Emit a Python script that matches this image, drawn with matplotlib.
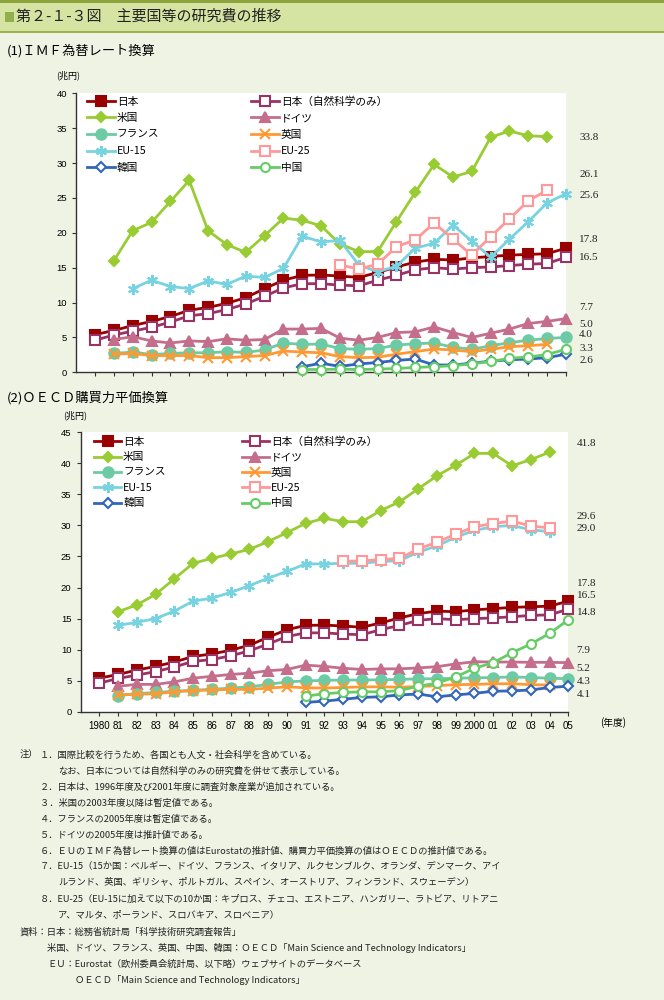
import numpy as np
import matplotlib
matplotlib.use("Agg")
import matplotlib.pyplot as plt
import matplotlib.transforms as mtransforms
from matplotlib.patches import Rectangle

plt.rcParams['font.family'] = ['Noto Sans CJK JP', 'DejaVu Sans']

nan = np.nan
years = list(range(1980, 2006))

# ---- (1) IMF為替レート換算 (兆円) ----
jp = [5.4, 6.0, 6.7, 7.3, 8.0, 8.9, 9.3, 9.9, 10.7, 12.0, 13.2, 13.9, 13.95, 13.8,
      13.6, 14.3, 15.1, 15.8, 16.2, 16.1, 16.4, 16.6, 16.8, 16.9, 17.0, 17.8]
jp_ns = [4.6, 5.35, 5.9, 6.45, 7.2, 8.1, 8.4, 9.0, 9.8, 10.9, 12.1, 12.7, 12.7, 12.5,
         12.4, 13.2, 13.9, 14.7, 15.0, 14.8, 15.0, 15.1, 15.3, 15.5, 15.6, 16.5]
us_imf = [nan, 16.0, 20.3, 21.5, 24.5, 27.5, 20.3, 18.3, 17.2, 19.6, 22.1, 21.8, 21.0,
          18.4, 17.3, 17.3, 21.6, 25.8, 29.8, 28.0, 28.8, 33.7, 34.6, 33.9, 33.8, nan]
de_imf = [nan, 4.7, 5.1, 4.5, 4.2, 4.5, 4.4, 4.8, 4.6, 4.7, 6.2, 6.2, 6.3, 4.9, 4.6,
          5.0, 5.7, 5.8, 6.5, 5.7, 5.0, 5.6, 6.2, 7.0, 7.3, 7.7]
fr_imf = [nan, 2.7, 2.9, 2.55, 2.7, 2.8, 2.8, 2.95, 2.85, 3.2, 4.2, 4.0, 4.05, 3.4,
          3.3, 3.4, 3.9, 4.1, 4.2, 3.6, 3.3, 3.8, 4.25, 4.6, 4.85, 5.0]
uk_imf = [nan, 2.6, 2.7, 2.4, 2.4, 2.4, 2.1, 2.1, 2.25, 2.4, 3.05, 2.9, 2.8, 2.25,
          2.1, 2.15, 2.6, 2.96, 3.34, 3.2, 2.96, 3.3, 3.67, 3.82, 4.0, nan]
eu15_imf = [nan, nan, 12.0, 13.2, 12.3, 12.0, 13.1, 12.6, 13.8, 13.6, 14.9, 19.5, 18.7,
            18.9, 15.4, 14.4, 15.2, 17.8, 18.5, 21.1, 18.8, 16.5, 19.1, 21.6, 24.3, 25.6]
eu25_imf = [nan] * 13 + [15.4, 14.8, 15.5, 18.0, 19.0, 21.4, 19.1, 16.8, 19.45, 22.0,
                         24.6, 26.1, nan]
kr_imf = [nan] * 11 + [0.8, 1.3, 0.85, 1.2, 1.4, 1.7, 1.9, 1.05, 1.05, 1.3, 1.6, 1.8,
                       1.9, 2.1, 2.6]
cn_imf = [nan] * 11 + [0.4, 0.4, 0.45, 0.4, 0.45, 0.55, 0.7, 0.8, 0.95, 1.2, 1.55, 2.0,
                       2.2, 2.55, 3.3]

# ---- (2) OECD購買力平価換算 (兆円) ----
us_ppp = [nan, 16.1, 17.2, 18.9, 21.4, 23.9, 24.7, 25.4, 26.15, 27.4, 28.84, 30.34,
          31.15, 30.6, 30.6, 32.4, 33.8, 35.9, 38.0, 39.7, 41.6, 41.6, 39.6, 40.6, 41.8, nan]
de_ppp = [nan, 4.1, 4.4, 4.4, 4.8, 5.4, 5.7, 6.0, 6.2, 6.6, 6.8, 7.5, 7.3, 7.0, 6.8,
          6.9, 6.9, 7.05, 7.25, 7.7, 8.05, 8.0, 8.0, 7.95, 7.95, 7.9]
fr_ppp = [nan, 2.6, 2.9, 3.1, 3.3, 3.45, 3.6, 3.8, 4.0, 4.4, 4.8, 4.95, 5.05, 5.1,
          5.1, 5.15, 5.2, 5.3, 5.3, 5.4, 5.45, 5.5, 5.6, 5.5, 5.4, 5.3]
uk_ppp = [nan, 2.7, 2.8, 2.9, 3.2, 3.4, 3.5, 3.6, 3.6, 3.8, 4.0, 3.85, 3.8, 3.9, 4.0,
          4.0, 3.95, 4.05, 4.2, 4.35, 4.4, 4.5, 4.5, 4.35, 4.3, nan]
eu15_ppp = [nan, 13.9, 14.4, 15.0, 16.2, 17.8, 18.3, 19.2, 20.3, 21.5, 22.6, 23.8,
            23.8, 23.9, 23.9, 24.2, 24.3, 25.7, 26.7, 28.1, 29.2, 29.8, 30.0, 29.3, 29.0, nan]
eu25_ppp = [nan] * 13 + [24.2, 24.3, 24.5, 24.7, 26.2, 27.3, 28.6, 29.8, 30.3, 30.7,
                         29.9, 29.6, nan]
kr_ppp = [nan] * 11 + [1.5, 1.7, 2.0, 2.3, 2.4, 2.7, 2.85, 2.4, 2.7, 2.95, 3.3, 3.35,
                       3.5, 3.9, 4.1]
cn_ppp = [nan] * 11 + [2.5, 2.9, 3.1, 3.2, 3.2, 3.4, 4.1, 4.6, 5.6, 7.0, 7.9, 9.5,
                       10.9, 12.6, 14.8]

names = ["日本", "日本（自然科学のみ）", "米国", "ドイツ", "フランス", "英国",
         "EU-15", "EU-25", "韓国", "中国"]
imf_series = [jp, jp_ns, us_imf, de_imf, fr_imf, uk_imf, eu15_imf, eu25_imf, kr_imf, cn_imf]
ppp_series = [jp, jp_ns, us_ppp, de_ppp, fr_ppp, uk_ppp, eu15_ppp, eu25_ppp, kr_ppp, cn_ppp]

imf_labels = ["33.8", "26.1", "25.6", "17.8", "16.5", "7.7", "5.0", "4.0", "3.3", "2.6"]
ppp_labels = ["41.8", "29.6", "29.0", "17.8", "16.5", "14.8", "7.9", "5.2", "4.3", "4.1"]
# where the end labels sit (data units)
imf_label_y = [33.7, 28.3, 25.4, 19.1, 16.4, 9.3, 6.9, 5.35, 3.45, 1.7]
ppp_label_y = [43.2, 31.4, 29.45, 20.7, 18.7, 16.0, 9.9, 6.95, 4.9, 2.85]

# styles: color, marker, face, size
styles = [
    ("#990000", "s", "#990000", 6.5),
    ("#993366", "s", "white", 6.5),
    ("#99CC33", "D", "#99CC33", 5.5),
    ("#C46E8C", "^", "#C46E8C", 7),
    ("#6CCBA5", "o", "#6CCBA5", 7.5),
    ("#FF9933", "x", "#FF9933", 6.5),
    ("#77D3E0", (6, 2, 0), "#77D3E0", 8),
    ("#FF9999", "s", "white", 7),
    ("#3366BB", "D", "white", 5),
    ("#66CC66", "o", "white", 6.5),
]
legend_order = [0, 2, 4, 6, 8, 1, 3, 5, 7, 9]

BG = "#EEF3E4"
fig = plt.figure(figsize=(6.64, 10), dpi=100, facecolor=BG)


def px(x, y):
    return x / 664, 1 - y / 1000


# title band
fig.patches.append(Rectangle((0, 1 - 31 / 1000), 1, 31 / 1000, transform=fig.transFigure,
                             facecolor="#D5E4A2", edgecolor="none"))
fig.patches.append(Rectangle((0, 1 - 3 / 1000), 1, 3 / 1000, transform=fig.transFigure,
                             facecolor="#8CA33C", edgecolor="none"))
fig.patches.append(Rectangle((0, 1 - 33 / 1000), 1, 2 / 1000, transform=fig.transFigure,
                             facecolor="#9CB14C", edgecolor="none"))
fig.patches.append(Rectangle(px(5, 22), 9 / 664, 10 / 1000, transform=fig.transFigure,
                             facecolor="#8FB04A", edgecolor="none"))
fig.text(*px(16, 17), "第２-１-３図　主要国等の研究費の推移", fontsize=10.8, va="center",
         color="#222222")


def draw(ax, series, ymax, labels, label_y, label_x, leg_x, leg_y, colsp, lsp):
    ax.set_facecolor("white")
    lines = []
    for vals, (c, m, fc, ms) in zip(series, styles):
        ln, = ax.plot(years, vals, color=c, lw=2, marker=m, markerfacecolor=fc,
                      markeredgecolor=c, markersize=ms, markeredgewidth=1.5,
                      clip_on=False, zorder=3)
        lines.append(ln)
    ax.set_xlim(1979, 2005)
    ax.set_ylim(0, ymax)
    ax.set_yticks(range(0, ymax + 1, 5))
    ax.set_xticks(years)
    for s in ["top", "right"]:
        ax.spines[s].set_visible(False)
    for s in ["left", "bottom"]:
        ax.spines[s].set_color("#333333")
        ax.spines[s].set_linewidth(1)
    ax.tick_params(direction="out", length=3, width=0.8, color="#333333")
    for t in ax.get_yticklabels():
        t.set_family(["Liberation Sans", "DejaVu Sans"])
        t.set_fontsize(6.8)
    ax.legend([lines[i] for i in legend_order], [names[i] for i in legend_order],
              ncol=2, loc="upper left", bbox_to_anchor=(leg_x, leg_y),
              frameon=False, fontsize=7.7, handlelength=2.6, handletextpad=0.15,
              labelspacing=lsp, columnspacing=colsp, borderaxespad=0, borderpad=0)
    trans = mtransforms.blended_transform_factory(ax.transAxes, ax.transData)
    for lab, yv in zip(labels, label_y):
        ax.text(label_x, yv, lab, transform=trans, fontsize=8, va="center", ha="left",
                family=["Liberation Serif", "DejaVu Serif"], color="#222222")


ax1 = fig.add_axes([76.2 / 664, 1 - 372.3 / 1000, 489.8 / 664, 279 / 1000])
draw(ax1, imf_series, 40, imf_labels, imf_label_y, 1.027, 0.023, 0.99, 8.6, 0.62)
ax1.set_xticklabels([])

ax2 = fig.add_axes([80.5 / 664, 1 - 711.7 / 1000, 487.8 / 664, 279.4 / 1000])
draw(ax2, ppp_series, 45, ppp_labels, ppp_label_y, 1.017, 0.027, 0.985, 7.1, 0.5)
xlabels = ["1980"] + [str(y)[2:] for y in years[1:20]] + ["2000"] + [str(y)[2:] for y in years[21:]]
ax2.set_xticklabels(xlabels, fontsize=7, family=["Liberation Sans", "DejaVu Sans"])
fig.text(*px(600, 723), "(年度)", fontsize=7, va="center")

fig.text(*px(7, 51), "(1)ＩＭＦ為替レート換算", fontsize=9.5, va="center")
fig.text(*px(68, 75), "(兆円)", fontsize=6.5, va="center", ha="center")
fig.text(*px(7, 398), "(2)ＯＥＣＤ購買力平価換算", fontsize=9.5, va="center")
fig.text(*px(75, 415), "(兆円)", fontsize=6.5, va="center", ha="center")

notes = [
    (20, 755, "注）"),
    (40, 755, "１．国際比較を行うため、各国とも人文・社会科学を含めている。"),
    (58, 771, "なお、日本については自然科学のみの研究費を併せて表示している。"),
    (40, 787, "２．日本は、1996年度及び2001年度に調査対象産業が追加されている。"),
    (40, 803, "３．米国の2003年度以降は暫定値である。"),
    (40, 819, "４．フランスの2005年度は暫定値である。"),
    (40, 835, "５．ドイツの2005年度は推計値である。"),
    (40, 851, "６．ＥＵのＩＭＦ為替レート換算の値はEurostatの推計値、購買力平価換算の値はＯＥＣＤの推計値である。"),
    (40, 867, "７．EU-15（15か国：ベルギー、ドイツ、フランス、イタリア、ルクセンブルク、オランダ、デンマーク、アイ"),
    (58, 883, "ルランド、英国、ギリシャ、ポルトガル、スペイン、オーストリア、フィンランド、スウェーデン）"),
    (40, 899, "８．EU-25（EU-15に加えて以下の10か国：キプロス、チェコ、エストニア、ハンガリー、ラトビア、リトアニ"),
    (58, 915, "ア、マルタ、ポーランド、スロバキア、スロベニア）"),
    (20, 932, "資料：日本：総務省統計局「科学技術研究調査報告」"),
    (47, 948, "米国、ドイツ、フランス、英国、中国、韓国：ＯＥＣＤ「Main Science and Technology Indicators」"),
    (47, 964, "ＥＵ：Eurostat（欧州委員会統計局、以下略）ウェブサイトのデータベース"),
    (75, 980, "ＯＥＣＤ「Main Science and Technology Indicators」"),
]
for x, y, s in notes:
    fig.text(*px(x, y), s, fontsize=6.7, va="center", color="#222222")

fig.savefig("out.png", dpi=100, facecolor=BG)
